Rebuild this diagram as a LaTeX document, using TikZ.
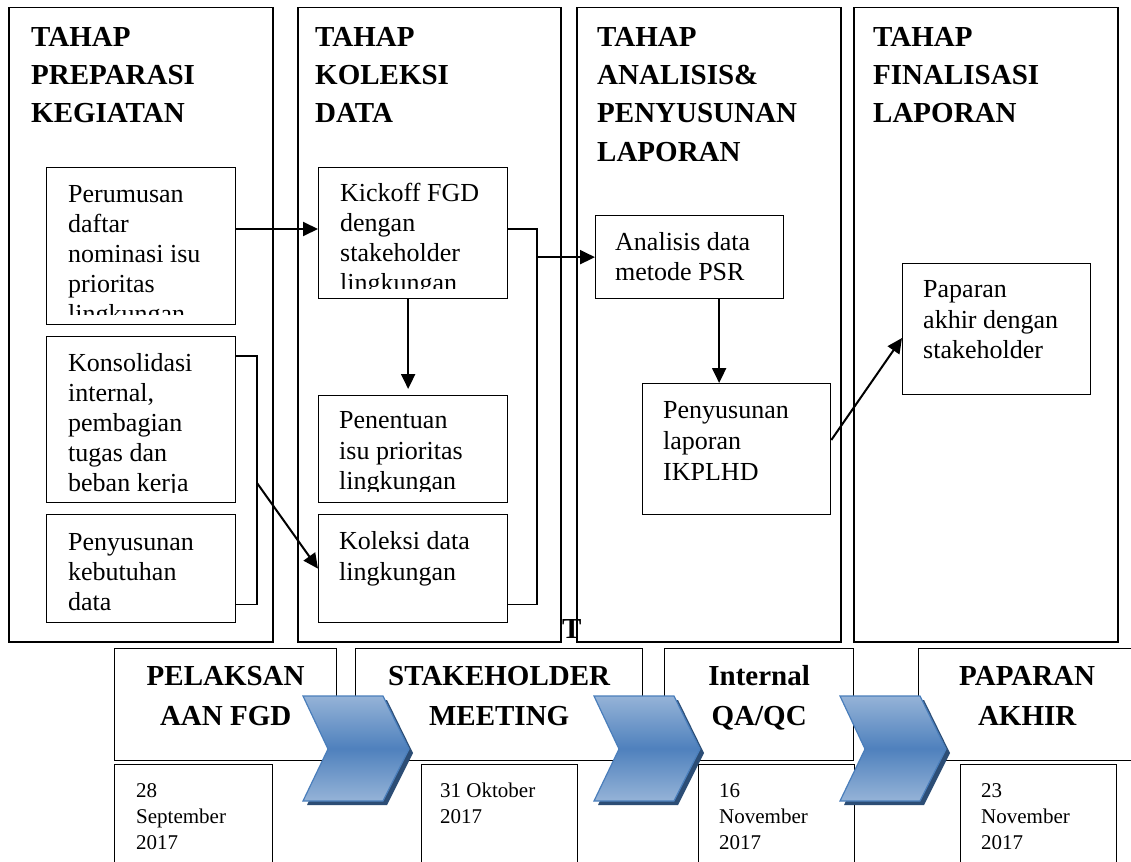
\documentclass[tikz,border=0pt]{standalone}
\usepackage{fontspec}
\setmainfont{Liberation Serif}
\usepackage{tikz}
\usetikzlibrary{arrows.meta,calc}
\definecolor{chevlight}{RGB}{149,179,215}
\definecolor{chevmid}{RGB}{79,129,189}
\definecolor{chevline}{RGB}{74,126,187}
\definecolor{chevshade}{RGB}{44,77,117}
\tikzset{
  frame/.style={draw,line width=1.5pt,anchor=north west,inner sep=0pt},
  box/.style={draw,line width=1.3pt,anchor=north west,inner sep=0pt},
  lnk/.style={line width=1.5pt},
  arr/.style={-{Triangle[length=15pt,width=14pt]},line width=2pt},
  ttl/.style={anchor=base west,inner sep=0pt,font=\fontsize{29}{38}\selectfont\bfseries},
  btl/.style={anchor=base,inner sep=0pt,font=\fontsize{29}{38}\selectfont\bfseries},
  txt/.style={anchor=base west,inner sep=0pt,font=\fontsize{26}{30}\selectfont},
  dat/.style={anchor=base west,inner sep=0pt,font=\fontsize{21}{26}\selectfont},
  chev/.style={draw=chevline,line width=1.2pt,top color=chevlight,bottom color=chevlight,middle color=chevmid}
}

\begin{document}
\begin{tikzpicture}[x=1pt,y=-1pt]
  \path[use as bounding box,fill=white] (0,0) rectangle (1131,861);

  % four phase columns
  \node[frame,minimum width=264pt,minimum height=634pt] (c1) at (8,7) {};
  \node[frame,minimum width=263pt,minimum height=634pt] (c2) at (297,7) {};
  \node[frame,minimum width=264pt,minimum height=634pt] (c3) at (576,7) {};
  \node[frame,minimum width=264pt,minimum height=634pt] (c4) at (853,7) {};

  \foreach \s [count=\i] in {TAHAP,PREPARASI,KEGIATAN}
    \node[ttl] (ha\i) at (31,{9+38*\i}) {\s};
  \foreach \s [count=\i] in {TAHAP,KOLEKSI,DATA}
    \node[ttl] (hb\i) at (315,{9+38*\i}) {\s};
  \foreach \s [count=\i] in {TAHAP,ANALISIS\&,PENYUSUNAN,LAPORAN}
    \node[ttl] (hc\i) at (597,{9+38*\i}) {\s};
  \foreach \s [count=\i] in {TAHAP,FINALISASI,LAPORAN}
    \node[ttl] (hd\i) at (873,{9+38*\i}) {\s};
  \node[ttl] (tcut) at (562,638) {T};

  % boxes
  \node[box,minimum width=189pt,minimum height=157pt] (perum) at (46,167) {};
  \node[box,minimum width=189pt,minimum height=166pt] (kons) at (46,336) {};
  \node[box,minimum width=189pt,minimum height=108pt] (keb) at (46,514) {};
  \node[box,minimum width=189pt,minimum height=131pt] (kick) at (318,167) {};
  \node[box,minimum width=189pt,minimum height=107pt] (pent) at (318,395) {};
  \node[box,minimum width=189pt,minimum height=108pt] (kol) at (318,514) {};
  \node[box,minimum width=188pt,minimum height=83pt] (anal) at (595,215) {};
  \node[box,minimum width=188pt,minimum height=131pt] (penlap) at (642,383) {};
  \node[box,minimum width=188pt,minimum height=131pt] (papa) at (902,263) {};

  % box texts (cut off at the bottom like the original)
  \begin{scope}
    \clip (perum.north west) rectangle ([yshift=11]perum.south east);
    \foreach \s [count=\i] in {Perumusan,daftar,nominasi isu,prioritas,lingkungan}
      \node[txt] (pa\i) at (68,{172+30*\i}) {\s};
  \end{scope}
  \begin{scope}
    \clip (kons.north west) rectangle ([yshift=10.5]kons.south east);
    \foreach \s [count=\i] in {Konsolidasi,{internal,},pembagian,tugas dan,beban kerja}
      \node[txt] (ka\i) at (68,{341+30*\i}) {\s};
  \end{scope}
  \foreach \s [count=\i] in {Penyusunan,kebutuhan,data}
    \node[txt] (kb\i) at (68,{520+30*\i}) {\s};
  \begin{scope}
    \clip (kick.north west) rectangle ([yshift=11]kick.south east);
    \foreach \s [count=\i] in {Kickoff FGD,dengan,stakeholder,lingkungan}
      \node[txt] (ki\i) at (340,{171+30*\i}) {\s};
  \end{scope}
  \begin{scope}
    \clip (pent.north west) rectangle ([yshift=12]pent.south east);
    \foreach \s [count=\i] in {Penentuan,isu prioritas,lingkungan}
      \node[txt] (pe\i) at (339,{398+30.5*\i}) {\s};
  \end{scope}
  \foreach \s [count=\i] in {Koleksi data,lingkungan}
    \node[txt] (ko\i) at (339,{519+30.5*\i}) {\s};
  \foreach \s [count=\i] in {Analisis data,metode PSR}
    \node[txt] (an\i) at (615,{220+30*\i}) {\s};
  \foreach \s [count=\i] in {Penyusunan,laporan,IKPLHD}
    \node[txt] (pl\i) at (663,{387+31*\i}) {\s};
  \foreach \s [count=\i] in {Paparan,akhir dengan,stakeholder}
    \node[txt] (pp\i) at (923,{267+30.5*\i}) {\s};

  % connectors
  \coordinate (cb) at (257,603);
  \coordinate (kb) at (537,603);
  \draw[arr] ([yshift=-62]perum.north east) -- ([yshift=-62]kick.north west);
  \draw[lnk] ([yshift=-20]kons.north east) -| (cb) |- ([yshift=19]keb.south east);
  \draw[arr] ([yshift=120]cb) -- (kol.west);
  \draw[arr,shorten >=6pt] ([xshift=-5]kick.south) -- ([xshift=-5]kick.south |- pent.north);
  \draw[lnk] ([yshift=-62]kick.north east) -| (kb) |- ([yshift=19]kol.south east);
  \draw[arr] (kb |- anal.west) -- (anal.west);
  \draw[arr] ([xshift=29.5]anal.south) -- ([xshift=29.5]anal.south |- penlap.north);
  \draw[arr] ([yshift=-57]penlap.north east) -- ([yshift=-75]papa.north west);

  % timeline
  \node[box,minimum width=222pt,minimum height=112pt] (b1) at (114,648) {};
  \node[box,minimum width=287pt,minimum height=112pt] (b2) at (355,648) {};
  \node[box,minimum width=189pt,minimum height=112pt] (b3) at (664,648) {};
  \node[box,minimum width=217pt,minimum height=112pt] (b4) at (918,648) {};
  \node[btl] (t1a) at ([yshift=-37]b1.north) {PELAKSAN};
  \node[btl] (t1b) at ([yshift=-77]b1.north) {AAN FGD};
  \node[btl] (t2a) at ([yshift=-37]b2.north) {STAKEHOLDER};
  \node[btl] (t2b) at ([yshift=-77]b2.north) {MEETING};
  \node[btl] (t3a) at ([yshift=-37]b3.north) {Internal};
  \node[btl] (t3b) at ([yshift=-77]b3.north) {QA/QC};
  \node[btl] (t4a) at ([yshift=-37]b4.north) {PAPARAN};
  \node[btl] (t4b) at ([yshift=-77]b4.north) {AKHIR};

  \node[box,minimum width=158pt,minimum height=110pt] (d1) at (114,764) {};
  \node[box,minimum width=156pt,minimum height=110pt] (d2) at (421,764) {};
  \node[box,minimum width=156pt,minimum height=110pt] (d3) at (698,764) {};
  \node[box,minimum width=156pt,minimum height=110pt] (d4) at (960,764) {};
  \foreach \s [count=\i] in {28,September,2017}
    \node[dat] (da\i) at (136,{771+26*\i}) {\s};
  \foreach \s [count=\i] in {31 Oktober,2017}
    \node[dat] (db\i) at (440,{771+26*\i}) {\s};
  \foreach \s [count=\i] in {16,November,2017}
    \node[dat] (dc\i) at (719,{771+26*\i}) {\s};
  \foreach \s [count=\i] in {23,November,2017}
    \node[dat] (dd\i) at (981,{771+26*\i}) {\s};

  % chevrons
  \foreach \cx in {303,594,840} {
    \fill[chevshade,xshift=4pt,yshift=-4pt] (\cx,696) -- ++(80,0) -- ++(26,53) -- ++(-26,52)
      -- ++(-80,0) -- ++(25,-52) -- cycle;
    \path[chev] (\cx,696) -- ++(80,0) -- ++(26,53) -- ++(-26,52)
      -- ++(-80,0) -- ++(25,-52) -- cycle;
  }
\end{tikzpicture}
\end{document}
